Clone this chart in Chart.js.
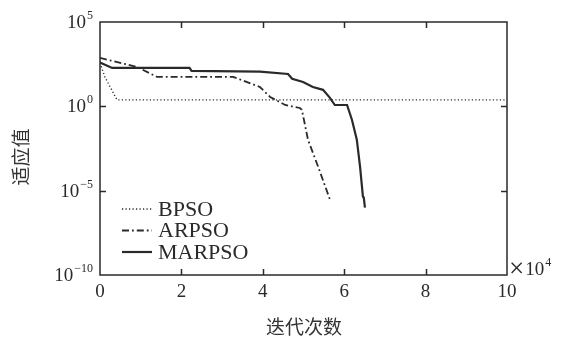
<!DOCTYPE html>
<html>
<head>
<meta charset="utf-8">
<script src="https://cdn.jsdelivr.net/npm/chart.js@4.4.1/dist/chart.umd.min.js"></script>
<style>
  html, body { margin: 0; padding: 0; background: #fff; }
  canvas { display: block; }
</style>
</head>
<body>
<canvas id="fitness" width="564" height="338"></canvas>
<script>
// iterations in units of 10^4
const bpsoX = [0, 0.12, 0.25, 0.42, 10];
const bpsoY = [370, 56, 14, 2.4, 2.4];

const arpsoX = [0, 0.9, 1.4, 3.27, 3.93, 4.18, 4.55, 4.91, 4.96, 5.11, 5.36, 5.65];
const arpsoY = [740, 220, 56, 56, 14, 3.6, 1.2, 0.8, 0.63, 0.0105, 2.6e-4, 3e-6];

const marpsoX = [0, 0.3, 2.2, 2.25, 3.93, 4.62, 4.72, 4.99, 5.23, 5.48, 5.65, 5.77, 6.07, 6.19, 6.31, 6.39, 6.46, 6.48, 6.51];
const marpsoY = [400, 190, 190, 125, 115, 83, 43, 28, 14, 9.5, 3.2, 1.2, 1.2, 0.16, 0.0105, 2.6e-4, 4.4e-6, 4e-6, 1e-6];

const xTicks = [0, 2, 4, 6, 8, 10];
const yTicks = [1e5, 1, 1e-5, 1e-10];
const yTickExp = ['5', '0', '\u22125', '\u221210'];

const seriesNames = ['BPSO', 'ARPSO', 'MARPSO'];

const ink = '#2a2a2a';
const serif = '"Liberation Serif", "DejaVu Serif", serif';

function pts(xs, ys) {
  return xs.map((x, i) => ({ x: x, y: ys[i] }));
}

const styles = [
  { borderDash: [1.2, 2.3], borderWidth: 1.4 },
  { borderDash: [7, 3, 1.8, 3], borderWidth: 1.8 },
  { borderDash: [], borderWidth: 2.2 },
];

// 10 with a raised exponent, anchored by its right or left edge
function drawPower(ctx, exp, x, y, align) {
  ctx.font = '19px ' + serif;
  const wb = ctx.measureText('10').width;
  ctx.font = '12px ' + serif;
  const we = ctx.measureText(exp).width;
  const left = align === 'right' ? x - wb - we - 1 : x;
  ctx.textBaseline = 'middle';
  ctx.textAlign = 'left';
  ctx.font = '19px ' + serif;
  ctx.fillText('10', left, y);
  ctx.font = '12px ' + serif;
  ctx.fillText(exp, left + wb + 1, y - 7);
}

const framePlugin = {
  id: 'frame',
  afterDraw(chart) {
    const ctx = chart.ctx;
    const a = chart.chartArea;
    const xs = chart.scales.x;
    const ys = chart.scales.y;
    ctx.save();
    ctx.strokeStyle = ink;
    ctx.fillStyle = ink;
    ctx.lineWidth = 1.5;
    ctx.strokeRect(a.left, a.top, a.right - a.left, a.bottom - a.top);

    // inward tick marks
    ctx.beginPath();
    xTicks.forEach(v => {
      const px = Math.round(xs.getPixelForValue(v)) + 0.5;
      if (px <= a.left + 1 || px >= a.right - 1) return;
      ctx.moveTo(px, a.bottom); ctx.lineTo(px, a.bottom - 6);
      ctx.moveTo(px, a.top); ctx.lineTo(px, a.top + 6);
    });
    yTicks.forEach(v => {
      const py = Math.round(ys.getPixelForValue(v)) + 0.5;
      if (py <= a.top + 1 || py >= a.bottom - 1) return;
      ctx.moveTo(a.left, py); ctx.lineTo(a.left + 6, py);
      ctx.moveTo(a.right, py); ctx.lineTo(a.right - 6, py);
    });
    ctx.stroke();

    // tick labels
    ctx.font = '19px ' + serif;
    ctx.textAlign = 'center';
    ctx.textBaseline = 'middle';
    xTicks.forEach(v => {
      ctx.fillText(String(v), xs.getPixelForValue(v), a.bottom + 17);
    });
    yTicks.forEach((v, i) => {
      drawPower(ctx, yTickExp[i], a.left - 7, ys.getPixelForValue(v) + 1, 'right');
    });

    // x multiplier
    ctx.font = '27px ' + serif;
    ctx.textAlign = 'left';
    ctx.fillText('\u00d7', a.right + 2, a.bottom - 5);
    const wx = ctx.measureText('\u00d7').width;
    drawPower(ctx, '4', a.right + 3 + wx, a.bottom - 5, 'left');

    // legend
    const ly = [209, 230.5, 252];
    chart.data.datasets.forEach((ds, i) => {
      ctx.beginPath();
      ctx.lineWidth = ds.borderWidth;
      ctx.setLineDash(ds.borderDash);
      ctx.moveTo(a.left + 22, ly[i]);
      ctx.lineTo(a.left + 52, ly[i]);
      ctx.stroke();
      ctx.setLineDash([]);
      ctx.font = '22px ' + serif;
      ctx.textAlign = 'left';
      ctx.textBaseline = 'middle';
      ctx.fillText(seriesNames[i], a.left + 58, ly[i] + 1);
    });

    // axis titles
    ctx.fillStyle = '#333';
    ctx.font = '19px "Noto Sans CJK SC", sans-serif';
    ctx.textAlign = 'center';
    ctx.textBaseline = 'middle';
    ctx.fillText('迭代次数', 304, 327);
    ctx.translate(21, 157);
    ctx.rotate(-Math.PI / 2);
    ctx.fillText('适应值', 0, 0);
    ctx.restore();
  },
};

const series = [pts(bpsoX, bpsoY), pts(arpsoX, arpsoY), pts(marpsoX, marpsoY)];

new Chart(document.getElementById('fitness').getContext('2d'), {
  type: 'line',
  data: {
    datasets: series.map((d, i) => ({
      label: seriesNames[i],
      data: d,
      borderColor: ink,
      borderWidth: styles[i].borderWidth,
      borderDash: styles[i].borderDash,
      pointRadius: 0,
      tension: 0,
      fill: false,
    })),
  },
  options: {
    responsive: false,
    animation: false,
    layout: { padding: { left: 100, right: 57, top: 22, bottom: 63 } },
    scales: {
      x: { type: 'linear', min: 0, max: 10, display: false },
      y: { type: 'logarithmic', min: 1e-10, max: 1e5, display: false },
    },
    plugins: {
      legend: { display: false },
      tooltip: { enabled: false },
    },
  },
  plugins: [framePlugin],
});
</script>
</body>
</html>
